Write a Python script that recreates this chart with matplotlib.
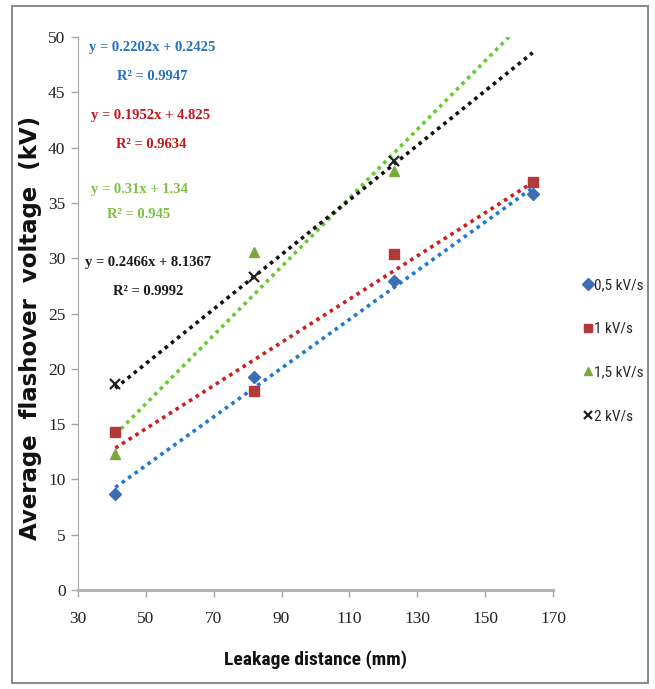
import numpy as np
import matplotlib.pyplot as plt
from matplotlib.patches import Rectangle

# Leakage distance (mm) and mean flashover voltage (kV) for each ramp rate
x4 = [41, 82, 123, 164]
x3 = [41, 82, 123]
v_05 = [8.7, 19.3, 27.9, 35.8]
v_1 = [14.3, 18.0, 30.4, 36.9]
v_15 = [12.3, 30.6, 37.9]
v_2 = [18.6, 28.3, 38.8]

labels = ["0,5 kV/s", "1 kV/s", "1,5 kV/s", "2 kV/s"]

# Linear trendlines (slope, intercept, R^2)
slopes = [0.2202, 0.1952, 0.31, 0.2466]
intercepts = [0.2425, 4.825, 1.34, 8.1367]
r2 = ["0.9947", "0.9634", "0.945", "0.9992"]
eq_text = ["y = 0.2202x + 0.2425", "y = 0.1952x + 4.825",
           "y = 0.31x + 1.34", "y = 0.2466x + 8.1367"]

marker_col = ["#3c6db5", "#b23a38", "#7aa83c", "#222222"]
line_col = ["#1f78d1", "#cc2020", "#66cc2e", "#111111"]
text_col = ["#2470c0", "#c0161e", "#7cc242", "#1a1a1a"]
markers = ["D", "s", "^", "x"]
msizes = [6.5, 7, 7.5, 7]

narrow = ["Roboto Condensed", "Liberation Sans Narrow", "Liberation Sans"]

fig = plt.figure(figsize=(6.55, 6.89), dpi=100)
ax = fig.add_axes([78 / 655, 1 - 590 / 689, 475 / 655, 553 / 689])

# outer frame around the whole chart
fig.patches.append(Rectangle((12 / 655, 1 - 683 / 689), 636 / 655, 677 / 689,
                             transform=fig.transFigure, fill=False,
                             edgecolor="#8c8c8c", lw=1.5))

xs = [x4, x4, x3, x3]
ys = [v_05, v_1, v_15, v_2]
xfit = np.array([41, 164])
for i in range(4):
    ax.plot(xfit, slopes[i] * xfit + intercepts[i], linestyle=(0, (1, 1.2)),
            color=line_col[i], lw=2.6, zorder=2)
for i in range(4):
    if markers[i] == "x":
        ax.plot(xs[i], ys[i], linestyle="none", marker="x", color=marker_col[i],
                ms=msizes[i], mew=1.6, label=labels[i], zorder=3)
    else:
        ax.plot(xs[i], ys[i], linestyle="none", marker=markers[i], color=marker_col[i],
                ms=msizes[i], mec=marker_col[i], label=labels[i], zorder=3)

ax.set_xlim(30, 170)
ax.set_ylim(0, 50)
ax.set_xticks(np.arange(30, 171, 20))
ax.set_yticks(np.arange(0, 51, 5))
for s in ["top", "right"]:
    ax.spines[s].set_visible(False)
ax.spines["left"].set_color("#a6a6a6")
ax.spines["bottom"].set_color("#b0b0b0")
ax.spines["bottom"].set_linewidth(2.2)
ax.tick_params(axis="both", colors="#a6a6a6", length=5, width=1,
               labelcolor="#222222")
ax.tick_params(axis="y", pad=4)
ax.tick_params(axis="x", pad=10)
for t in ax.get_xticklabels() + ax.get_yticklabels():
    t.set_fontfamily("Liberation Serif")
    t.set_fontsize(12.5)

ax.set_xlabel("Leakage distance (mm)", family=narrow, fontsize=14, fontweight="bold",
              labelpad=17, color="#111111")
fig.text(31 / 655, 1 - 328 / 689, "Average  flashover  voltage  (kV)", rotation=90,
         ha="center", va="center", family="DejaVu Sans", fontweight="bold",
         fontsize=16.5, color="#111111")

# trendline equations in the upper-left corner
eq_pos = [(152, 48, 77), (151, 116, 145), (139, 190, 215), (148, 262, 292)]
for i, (cx, y1, y2) in enumerate(eq_pos):
    fig.text(cx / 655, 1 - y1 / 689, eq_text[i], color=text_col[i], ha="center",
             va="center", family="Liberation Serif", fontweight="bold", fontsize=10.5)
    fig.text(cx / 655, 1 - y2 / 689, "R\u00b2 = " + r2[i], color=text_col[i], ha="center",
             va="center", family="Liberation Serif", fontweight="bold", fontsize=10.5)

leg = fig.legend(loc="upper left", bbox_to_anchor=(578 / 655, 1 - 272 / 689),
                 frameon=False, handlelength=0.5, handletextpad=0.15,
                 labelspacing=1.95, borderaxespad=0,
                 prop={"family": narrow, "size": 11})
for t in leg.get_texts():
    t.set_color("#262626")
for h in leg.legend_handles:
    h.set_markersize(6)

fig.savefig("out.png", dpi=100)
